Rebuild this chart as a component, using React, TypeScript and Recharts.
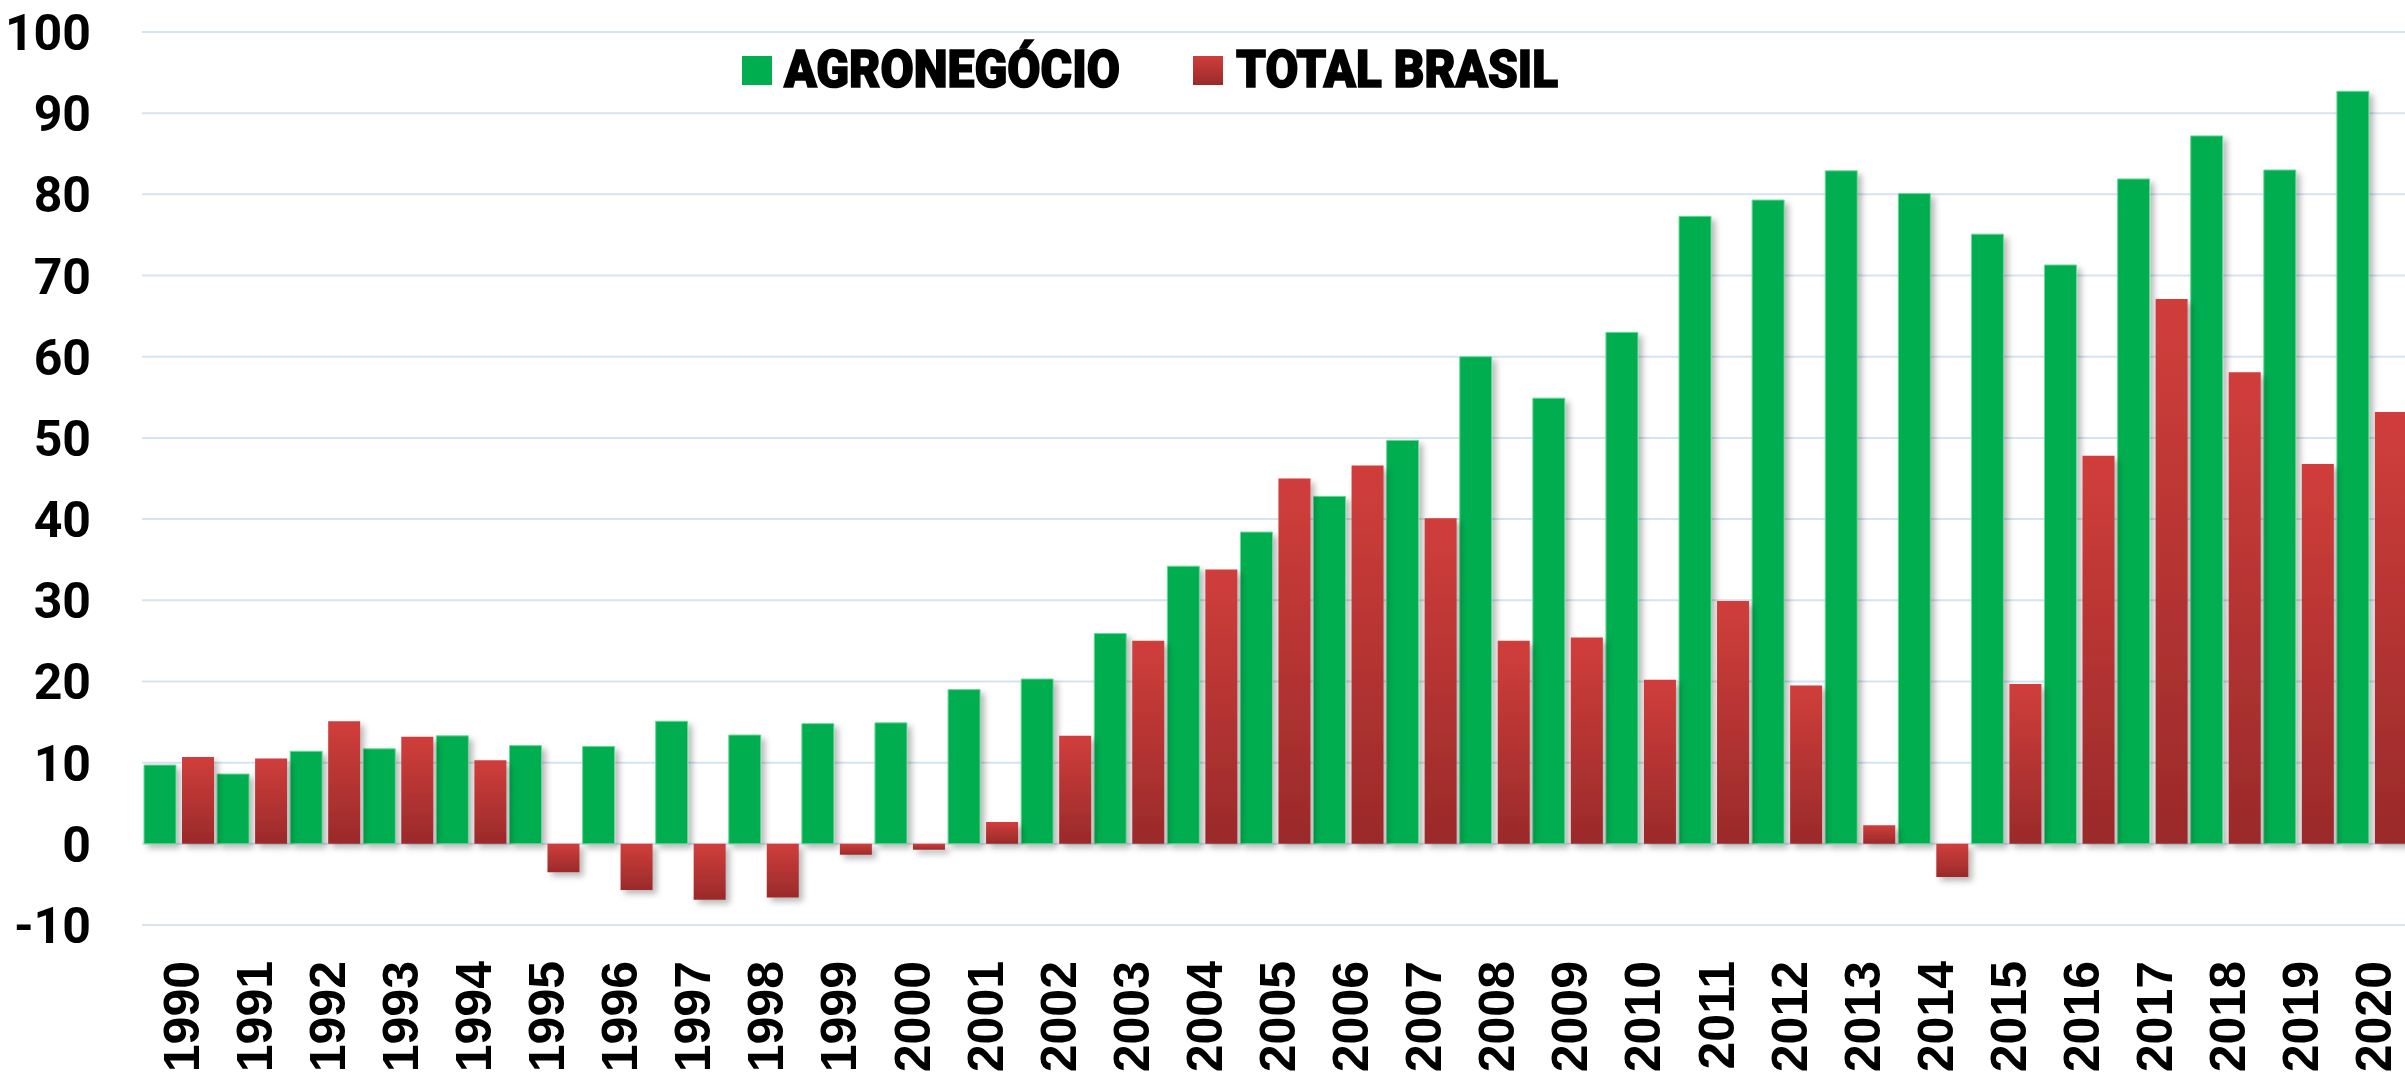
import React from 'react';
import { BarChart, Bar, XAxis, YAxis, CartesianGrid, Legend, Rectangle } from 'recharts';

const YEARS = [
    '1990', '1991', '1992', '1993', '1994', '1995', '1996', '1997', '1998', '1999', '2000',
    '2001', '2002', '2003', '2004', '2005', '2006', '2007', '2008', '2009', '2010',
    '2011', '2012', '2013', '2014', '2015', '2016', '2017', '2018', '2019', '2020',
];

const AGRO = [
    9.7, 8.6, 11.4, 11.7, 13.3, 12.1, 12.0, 15.1, 13.4, 14.8, 14.9,
    19.0, 20.3, 25.9, 34.2, 38.4, 42.8, 49.7, 60.0, 54.9, 63.0,
    77.3, 79.3, 82.9, 80.1, 75.1, 71.3, 81.9, 87.2, 83.0, 92.7,
];

const TOTAL = [
    10.7, 10.5, 15.1, 13.2, 10.3, -3.5, -5.7, -6.9, -6.6, -1.35, -0.74,
    2.7, 13.3, 25.0, 33.8, 45.0, 46.6, 40.1, 25.0, 25.4, 20.2,
    29.9, 19.5, 2.3, -4.1, 19.7, 47.8, 67.1, 58.1, 46.8, 53.2,
];

const Y_TICKS = [-10, 0, 10, 20, 30, 40, 50, 60, 70, 80, 90, 100];

const SERIES_NAMES = ['AGRONEGÓCIO', 'TOTAL BRASIL'];

const GREEN = '#00ad4f';

const data = YEARS.map((year, i) => ({ year, agro: AGRO[i], total: TOTAL[i] }));

const XTick = (props: any) => {
    const { x, y, payload } = props;
    const ty = y + 36;
    return (
        <text
            x={x}
            y={ty}
            dy="0.4em"
            transform={`rotate(-90, ${x}, ${ty})`}
            textAnchor="end"
            fill="#000"
            style={{ fontFamily: '"Liberation Sans", Arial, sans-serif', fontWeight: 700, fontSize: 50 }}
        >
            {payload.value}
        </text>
    );
};

const YTick = (props: any) => {
    const { x, y, payload } = props;
    return (
        <text
            x={x}
            y={y}
            dy="0.36em"
            textAnchor="end"
            fill="#000"
            style={{ fontFamily: 'Roboto, sans-serif', fontWeight: 700, fontSize: 50 }}
        >
            {payload.value}
        </text>
    );
};

// legend drawn by hand: condensed heavy caps squeezed with textLength
const LegendContent = () => (
    <svg width={1700} height={110} style={{ overflow: 'visible' }}>
        <rect x={742} y={56} width={30} height={29} fill={GREEN} />
        <text
            x={784}
            y={87}
            textLength={336}
            lengthAdjust="spacingAndGlyphs"
            fill="#000"
            stroke="#000"
            strokeWidth={1.5}
            style={{ fontFamily: 'Roboto, sans-serif', fontWeight: 900, fontSize: 51 }}
        >
            {SERIES_NAMES[0]}
        </text>
        <rect x={1193} y={56} width={30} height={29} fill="url(#redGrad)" />
        <text
            x={1236}
            y={87}
            textLength={322}
            lengthAdjust="spacingAndGlyphs"
            fill="#000"
            stroke="#000"
            strokeWidth={1.5}
            style={{ fontFamily: 'Roboto, sans-serif', fontWeight: 900, fontSize: 51 }}
        >
            {SERIES_NAMES[1]}
        </text>
        <defs>
            <linearGradient id="redGrad" x1="0" y1="0" x2="0" y2="1">
                <stop offset="0%" stopColor="#d03e3b" />
                <stop offset="100%" stopColor="#9a2a2a" />
            </linearGradient>
        </defs>
    </svg>
);

const ShadowBar = (props: any) => <Rectangle {...props} filter="url(#barShadow)" />;

const App: React.FC = () => {
    return (
        <div
            style={{
                position: 'fixed',
                left: 0,
                top: 0,
                width: 2405,
                height: 1072,
                overflow: 'hidden',
                background: '#fff',
            }}
        >
            <BarChart
                width={2408}
                height={1072}
                data={data}
                margin={{ top: 32, right: 0, bottom: 0, left: 0 }}
                barCategoryGap={2}
                barGap={6}
            >
                <defs>
                    <linearGradient id="barGrad" x1="0" y1="0" x2="0" y2="1">
                        <stop offset="0%" stopColor="#d03e3b" />
                        <stop offset="100%" stopColor="#9a2a2a" />
                    </linearGradient>
                    <filter id="barShadow" filterUnits="userSpaceOnUse" x="0" y="0" width="2408" height="1072">
                        <feDropShadow dx="4" dy="4" stdDeviation="3" floodColor="#000" floodOpacity="0.28" />
                    </filter>
                </defs>
                <CartesianGrid vertical={false} stroke="#d6e3f2" strokeWidth={2} />
                <XAxis
                    dataKey="year"
                    height={147}
                    axisLine={false}
                    tickLine={false}
                    tickSize={0}
                    tickMargin={0}
                    interval={0}
                    tick={<XTick />}
                />
                <YAxis
                    width={142}
                    domain={[-10, 100]}
                    ticks={Y_TICKS}
                    axisLine={false}
                    tickLine={false}
                    tickSize={0}
                    tickMargin={51}
                    tick={<YTick />}
                />
                <Legend
                    verticalAlign="top"
                    content={<LegendContent />}
                    wrapperStyle={{ position: 'absolute', top: 0, left: 0, width: 0, height: 0, overflow: 'visible' }}
                />
                <Bar
                    dataKey="agro"
                    name={SERIES_NAMES[0]}
                    fill={GREEN}
                    stroke="#6fd79c"
                    strokeWidth={1}
                    shape={<ShadowBar />}
                    isAnimationActive={false}
                />
                <Bar
                    dataKey="total"
                    name={SERIES_NAMES[1]}
                    fill="url(#barGrad)"
                    shape={<ShadowBar />}
                    isAnimationActive={false}
                />
            </BarChart>
        </div>
    );
};

export default App;
